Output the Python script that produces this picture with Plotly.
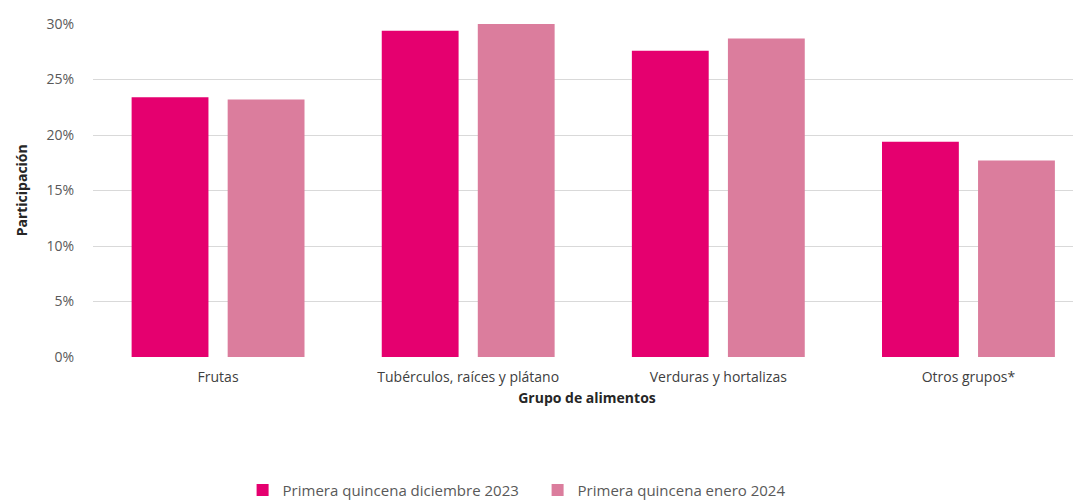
import plotly.graph_objects as go

categorias = ["Frutas", "Tubérculos, raíces y plátano", "Verduras y hortalizas", "Otros grupos*"]
dic_2023 = [0.234, 0.294, 0.276, 0.194]
ene_2024 = [0.232, 0.300, 0.287, 0.177]
serie_nombres = ["Primera quincena diciembre 2023", "Primera quincena enero 2024"]
y_ticks = [0, 0.05, 0.10, 0.15, 0.20, 0.25, 0.30]
y_ticktext = ["0%", "5%", "10%", "15%", "20%", "25%", "30%"]

FONT = "Open Sans, sans-serif"

fig = go.Figure()
fig.add_trace(go.Bar(x=categorias, y=dic_2023, name=serie_nombres[0],
                     marker=dict(color="#E5006F", line=dict(width=0))))
fig.add_trace(go.Bar(x=categorias, y=ene_2024, name=serie_nombres[1],
                     marker=dict(color="#DB7D9D", line=dict(width=0))))

fig.update_layout(
    width=1073, height=494,
    margin=dict(l=85, r=0, t=16, b=145, autoexpand=False),
    paper_bgcolor="white", plot_bgcolor="white",
    barmode="group", bargap=0.232, bargroupgap=0.2,
    font=dict(family=FONT, color="#595959", size=14),
    showlegend=True,
    legend=dict(orientation="h", x=0.45, xanchor="center", y=-0.40, yanchor="middle",
                font=dict(size=15, color="#595959"), itemwidth=30,
                entrywidth=250, traceorder="normal"),
    xaxis=dict(range=[-0.5, 3.45], showgrid=False, zeroline=False, showline=False,
               automargin=False, ticks="", ticklabelstandoff=10,
               tickfont=dict(size=14, color="#404040"),
               title=dict(text="<b>Grupo de alimentos</b>", standoff=8,
                          font=dict(size=14, color="#262626"))),
    yaxis=dict(range=[0, 0.30], tickvals=y_ticks, ticktext=y_ticktext,
               showgrid=True, gridcolor="#D9D9D9", gridwidth=1, zeroline=False,
               showline=False, ticks="", ticklabelstandoff=18, automargin=False,
               tickfont=dict(size=14, color="#595959")),
    annotations=[dict(text="<b>Participación</b>", textangle=-90, x=-0.072, y=0.5,
                      xref="paper", yref="paper", xanchor="center", yanchor="middle",
                      showarrow=False,
                      font=dict(size=14, color="#262626", family=FONT))],
)

fig.write_html("out.html")
